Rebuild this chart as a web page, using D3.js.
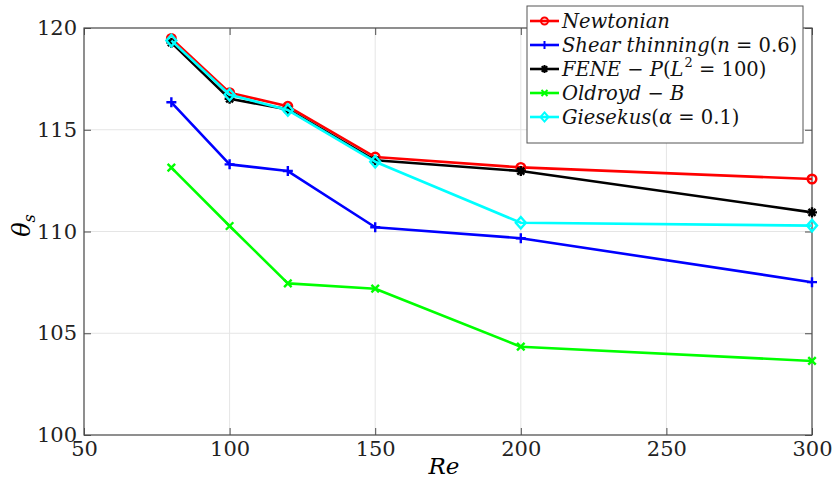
<!DOCTYPE html>
<html>
<head>
<meta charset="utf-8">
<script src="https://cdn.jsdelivr.net/npm/d3@7"></script>
<style>
  body { margin: 0; background: #fff; }
</style>
</head>
<body>
<div id="chart"></div>
<script>
// Reynolds numbers on the x axis
let reValues = [80, 100, 120, 150, 200, 300];

// separation angle for each model
let newtonian = [119.49, 116.82, 116.15, 113.66, 113.15, 112.58];
let shearThinning = [116.35, 113.30, 112.97, 110.21, 109.67, 107.51];
let feneP = [119.28, 116.52, 116.00, 113.50, 112.97, 110.94];
let oldroydB = [113.14, 110.27, 107.45, 107.19, 104.34, 103.64];
let giesekus = [119.38, 116.72, 115.97, 113.43, 110.43, 110.29];

let xTicks = [50, 100, 150, 200, 250, 300];
let yTicks = [100, 105, 110, 115, 120];

let seriesNames = ["Newtonian", "Shear thinning(n = 0.6)", "FENE − P(L^2 = 100)", "Oldroyd − B", "Giesekus(α = 0.1)"];
let seriesValues = [newtonian, shearThinning, feneP, oldroydB, giesekus];
let seriesColors = ["#ff0000", "#0000ff", "#000000", "#00ff00", "#00ffff"];
let seriesMarkers = ["circle", "plus", "asterisk", "times", "diamond"];

let serif = "'DejaVu Serif', 'Liberation Serif', serif";

let width = 832, height = 495;
let margin = { left: 84, right: 20, top: 28, bottom: 60 };
let plotW = width - margin.left - margin.right;
let plotH = height - margin.top - margin.bottom;

let x = d3.scaleLinear().domain([50, 300]).range([0, plotW]);
let y = d3.scaleLinear().domain([100, 120]).range([plotH, 0]);

let svg = d3.select("#chart").append("svg")
  .attr("width", width)
  .attr("height", height);

let g = svg.append("g")
  .attr("transform", `translate(${margin.left},${margin.top})`);

// grid
g.selectAll(".gx").data(xTicks).enter().append("line")
  .attr("x1", d => x(d)).attr("x2", d => x(d))
  .attr("y1", 0).attr("y2", plotH)
  .attr("stroke", "#e5e5e5").attr("stroke-width", 1);
g.selectAll(".gy").data(yTicks).enter().append("line")
  .attr("x1", 0).attr("x2", plotW)
  .attr("y1", d => y(d)).attr("y2", d => y(d))
  .attr("stroke", "#e5e5e5").attr("stroke-width", 1);

// axes with inward ticks
let axisColor = "#4d4d4d";
function styleAxis(sel) {
  sel.attr("font-family", serif);
  sel.select(".domain").remove();
  sel.selectAll(".tick line").attr("stroke", axisColor);
  sel.selectAll(".tick text").attr("fill", "#222").style("font-size", "21px");
}
g.append("g").attr("transform", `translate(0,${plotH})`)
  .call(d3.axisBottom(x).tickValues(xTicks).tickSize(-7).tickPadding(6))
  .call(styleAxis);
g.append("g")
  .call(d3.axisLeft(y).tickValues(yTicks).tickSize(-7).tickPadding(7))
  .call(styleAxis);
g.append("g")
  .call(d3.axisTop(x).tickValues(xTicks).tickSize(-7).tickFormat(""))
  .call(styleAxis);
g.append("g").attr("transform", `translate(${plotW},0)`)
  .call(d3.axisRight(y).tickValues(yTicks).tickSize(-7).tickFormat(""))
  .call(styleAxis);

g.append("rect")
  .attr("width", plotW).attr("height", plotH)
  .attr("fill", "none").attr("stroke", axisColor).attr("stroke-width", 1.2);

// marker shapes
function markerPath(type, s) {
  if (type === "circle") return `M${-s},0A${s},${s} 0 1,0 ${s},0A${s},${s} 0 1,0 ${-s},0`;
  if (type === "plus") return `M${-s},0H${s}M0,${-s}V${s}`;
  if (type === "times") { let t = s * 0.75; return `M${-t},${-t}L${t},${t}M${-t},${t}L${t},${-t}`; }
  if (type === "asterisk") { let t = s * 0.7; return `M${-s},0H${s}M0,${-s}V${s}M${-t},${-t}L${t},${t}M${-t},${t}L${t},${-t}`; }
  if (type === "diamond") return `M0,${-s * 1.15}L${s},0L0,${s * 1.15}L${-s},0Z`;
}

let line = d3.line().x(d => x(d.re)).y(d => y(d.v));

seriesValues.forEach((vals, i) => {
  let pts = reValues.map((re, j) => ({ re: re, v: vals[j] }));
  let sg = g.append("g");
  sg.append("path").datum(pts)
    .attr("d", line)
    .attr("fill", "none")
    .attr("stroke", seriesColors[i])
    .attr("stroke-width", 2.6)
    .attr("stroke-linejoin", "round");
  sg.selectAll(".m").data(pts).enter().append("path")
    .attr("transform", d => `translate(${x(d.re)},${y(d.v)})`)
    .attr("d", markerPath(seriesMarkers[i], seriesMarkers[i] === "circle" ? 4.3 : 5))
    .attr("fill", "none")
    .attr("stroke", seriesColors[i])
    .attr("stroke-width", 2.4);
});

// axis labels
svg.append("text")
  .attr("x", margin.left + plotW / 2 - 4).attr("y", 474)
  .attr("text-anchor", "middle")
  .style("font-size", "23px").style("font-style", "italic")
  .text("Re");

let yl = svg.append("text")
  .attr("transform", `translate(30,${margin.top + plotH / 2 - 6}) rotate(-90)`)
  .attr("text-anchor", "middle")
  .style("font-size", "24px").style("font-style", "italic");
yl.append("tspan").text("θ");
yl.append("tspan").attr("dy", 5).style("font-size", "16px").text("s");

// legend text: letters italic, digits and symbols upright, ^n superscript
function mathText(sel, label) {
  let parts = label.match(/\^\d+|[A-Za-zα ]+|[^A-Za-zα^]+/g);
  let shift = 0;
  parts.forEach(p => {
    if (p.startsWith("^")) {
      sel.append("tspan").attr("dx", 1).attr("dy", -9).style("font-size", "13px").text(p.slice(1));
      shift = 9;
    } else {
      let italic = /[A-Za-zα]/.test(p);
      let ts = sel.append("tspan")
        .style("font-style", italic ? "italic" : "normal")
        .text(p);
      if (shift) { ts.attr("dy", shift); shift = 0; }
    }
  });
}

let lg = svg.append("g").attr("transform", "translate(527,6)");
lg.append("rect")
  .attr("width", 276).attr("height", 137)
  .attr("fill", "#fff").attr("stroke", "#555").attr("stroke-width", 1);

seriesNames.forEach((name, i) => {
  let row = lg.append("g").attr("transform", `translate(0,${15 + i * 24})`);
  row.append("line")
    .attr("x1", 3).attr("x2", 32).attr("y1", 0).attr("y2", 0)
    .attr("stroke", seriesColors[i]).attr("stroke-width", 2.6);
  row.append("path")
    .attr("transform", "translate(17.5,0)")
    .attr("d", markerPath(seriesMarkers[i], seriesMarkers[i] === "circle" ? 3.5 : 4))
    .attr("fill", "none")
    .attr("stroke", seriesColors[i])
    .attr("stroke-width", 2);
  let t = row.append("text")
    .attr("x", 35).attr("y", 7)
    .style("font-size", "19.5px").attr("fill", "#111");
  mathText(t, name);
});

// serif face for every label, spaces kept as typed
svg.selectAll("text")
  .style("font-family", serif)
  .style("white-space", "pre");
</script>
</body>
</html>
